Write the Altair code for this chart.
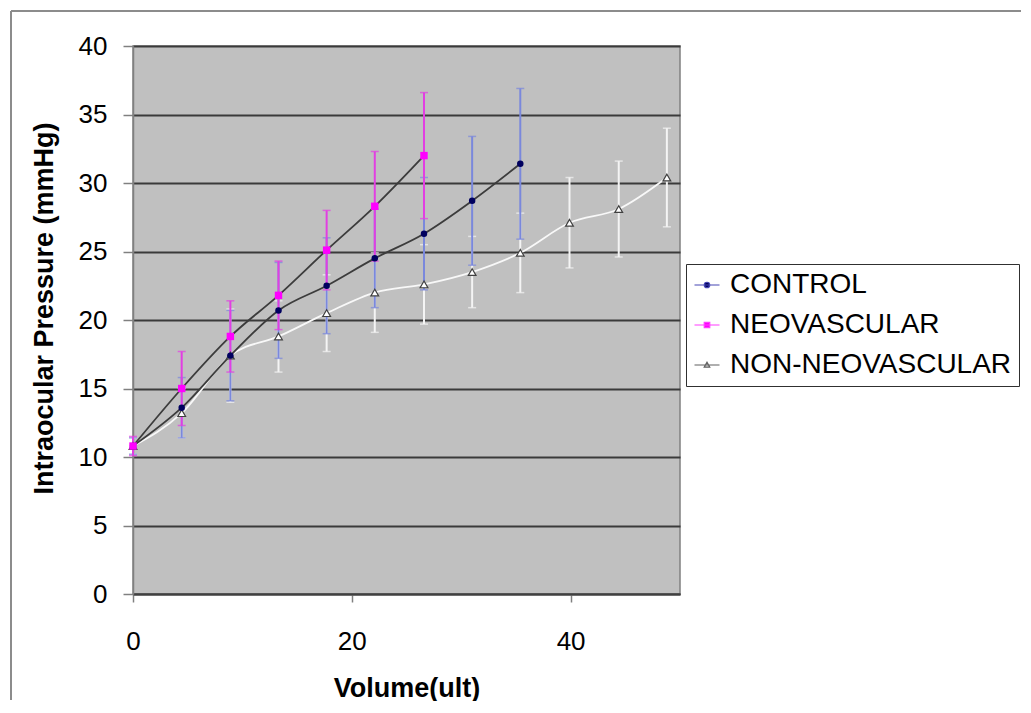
import altair as alt
import pandas as pd

# ---- data ----
VOLUME = [0, 4.45, 8.9, 13.3, 17.7, 22.1, 26.6, 31.0, 35.4, 39.9, 44.4, 48.8]
SERIES = ["CONTROL", "NEOVASCULAR", "NON-NEOVASCULAR"]

CONTROL_MEAN = [10.8, 13.6, 17.4, 20.7, 22.5, 24.5, 26.3, 28.7, 31.4]
CONTROL_ERR = [0.6, 2.2, 3.3, 3.5, 3.5, 3.6, 4.1, 4.7, 5.5]

NEO_MEAN = [10.8, 15.0, 18.8, 21.8, 25.1, 28.3, 32.0]
NEO_ERR = [0.7, 2.7, 2.6, 2.5, 2.9, 4.0, 4.6]

NONNEO_MEAN = [10.8, 13.2, 17.4, 18.8, 20.5, 22.0, 22.6, 23.5, 24.9, 27.1, 28.1, 30.4]
NONNEO_ERR = [0.6, 1.8, 3.4, 2.6, 2.8, 2.9, 2.9, 2.6, 2.9, 3.3, 3.5, 3.6]

Y_TICKS = [0, 5, 10, 15, 20, 25, 30, 35, 40]
X_TICKS = [0, 20, 40]

rows = []
for name, means, errs in [
    ("CONTROL", CONTROL_MEAN, CONTROL_ERR),
    ("NEOVASCULAR", NEO_MEAN, NEO_ERR),
    ("NON-NEOVASCULAR", NONNEO_MEAN, NONNEO_ERR),
]:
    for v, m, e in zip(VOLUME, means, errs):
        rows.append({"series": name, "volume": v, "iop": m, "lo": m - e, "hi": m + e})
df = pd.DataFrame(rows)

FONT = "Liberation Sans"

x_axis = alt.Axis(
    values=X_TICKS, title="Volume(ult)", grid=False, labelFlush=False,
    domainColor="#404040", domainWidth=2,
    tickColor="#808080", tickWidth=1.5, tickSize=8,
    labelPadding=26, labelFontSize=26, labelFont=FONT, labelColor="black",
    titleFont=FONT, titleFontSize=27, titleFontWeight="bold", titleColor="black",
    titlePadding=21,
)
y_axis = alt.Axis(
    values=Y_TICKS, title="Intraocular Pressure (mmHg)", labelFlush=False,
    grid=True, gridColor="#3a3a3a", gridWidth=2,
    domainColor="#808080", domainWidth=1.5,
    tickColor="#808080", tickWidth=1.5, tickSize=10,
    labelPadding=16, labelFontSize=26, labelFont=FONT, labelColor="black",
    titleFont=FONT, titleFontSize=27, titleFontWeight="bold", titleColor="black",
    titlePadding=20, titleY=262,
)

xs = alt.Scale(domain=[0, 50], nice=False, zero=False)
ys = alt.Scale(domain=[0, 40], nice=False, zero=False)


def X():
    return alt.X("volume:Q", scale=xs, axis=x_axis)


def Y(field):
    return alt.Y(f"{field}:Q", scale=ys, axis=y_axis)


base = alt.Chart(df)

ERR_COL = {"CONTROL": "#7a88dc", "NEOVASCULAR": "#e23ee2", "NON-NEOVASCULAR": "#f4f4f4"}
LINE_COL = {"CONTROL": "#3c3c3c", "NEOVASCULAR": "#3c3c3c", "NON-NEOVASCULAR": "#f8f8f8"}

layers = []
# error bars
for s in ["NON-NEOVASCULAR", "CONTROL", "NEOVASCULAR"]:
    f = base.transform_filter(alt.datum.series == s)
    layers.append(f.mark_rule(color=ERR_COL[s], strokeWidth=2).encode(x=X(), y=Y("lo"), y2="hi:Q"))
    layers.append(f.mark_tick(color=ERR_COL[s], orient="horizontal", size=8, thickness=1.5).encode(x=X(), y=Y("lo")))
    layers.append(f.mark_tick(color=ERR_COL[s], orient="horizontal", size=8, thickness=1.5).encode(x=X(), y=Y("hi")))
# lines
for s in ["NON-NEOVASCULAR", "CONTROL", "NEOVASCULAR"]:
    f = base.transform_filter(alt.datum.series == s)
    layers.append(f.mark_line(color=LINE_COL[s], strokeWidth=1.8, interpolate="monotone").encode(x=X(), y=Y("iop")))
# markers
layers.append(base.transform_filter(alt.datum.series == "NON-NEOVASCULAR").mark_point(
    shape="triangle-up", size=60, filled=True, fill="white", stroke="#404040", strokeWidth=1.2, opacity=1
).encode(x=X(), y=Y("iop")))
layers.append(base.transform_filter(alt.datum.series == "CONTROL").mark_point(
    shape="circle", size=42, filled=True, color="#00005e", opacity=1
).encode(x=X(), y=Y("iop")))
layers.append(base.transform_filter(alt.datum.series == "NEOVASCULAR").mark_point(
    shape="square", size=55, filled=True, color="#ff00ff", opacity=1
).encode(x=X(), y=Y("iop")))

# legend (symbols carry a short line with the marker, as in the original)
PATHS = [
    "M-1,0H1M-0.22,0A0.22,0.22,0,1,1,0.22,0A0.22,0.22,0,1,1,-0.22,0Z",
    "M-1,0H1M-0.22,-0.22H0.22V0.22H-0.22Z",
    "M-1,0H1M-0.22,0.17L0,-0.22L0.22,0.17Z",
]
LEG = alt.Legend(
    title=None, orient="none", legendX=553, legendY=218,
    labelFont=FONT, labelFontSize=28, labelColor="black", labelOffset=9, labelLimit=500,
    symbolSize=625, symbolStrokeWidth=1.2, symbolOpacity=1, rowPadding=12, padding=7,
    strokeColor="#303030", fillColor="white",
)
layers.append(base.mark_point(size=1, filled=True).encode(
    x=X(), y=Y("iop"),
    shape=alt.Shape("series:N", scale=alt.Scale(domain=SERIES, range=PATHS), legend=LEG),
    fill=alt.Fill("series:N", scale=alt.Scale(domain=SERIES, range=["#00005e", "#ff00ff", "#e8e8e8"]), legend=LEG),
    stroke=alt.Stroke("series:N", scale=alt.Scale(domain=SERIES, range=["#4646b4", "#ff3cff", "#606060"]), legend=LEG),
    opacity=alt.value(0),
))

# outer frame of the figure (top and left edges)
frame_data = alt.Data(values=[{}])
layers.append(alt.Chart(frame_data).mark_rule(color="#8c8c8c", strokeWidth=2).encode(
    x=alt.value(-122), y=alt.value(-35), y2=alt.value(654)))
layers.append(alt.Chart(frame_data).mark_rule(color="#8c8c8c", strokeWidth=2).encode(
    x=alt.value(-122), x2=alt.value(888), y=alt.value(-35)))

chart = alt.layer(*layers).properties(
    width=547, height=548,
    padding={"left": 2, "top": 2, "right": 0, "bottom": 0},
    background="white",
).configure_view(fill="#c0c0c0", stroke="#808080", strokeWidth=1.5)

chart.save("out.html", embed_options={"renderer": "svg", "actions": False})
